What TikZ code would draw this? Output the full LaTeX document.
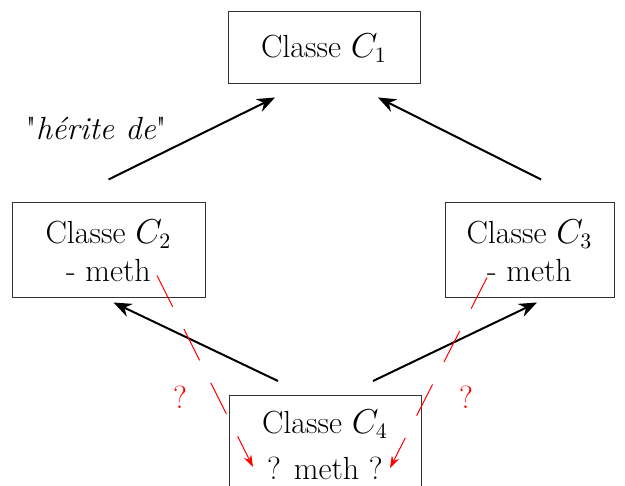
\documentclass[tikz,border=0pt]{standalone}
\usepackage{xcolor}
\usepackage{tikz}
\usepackage{amsmath}
\usetikzlibrary{positioning,shapes,arrows,arrows.meta,calc}

\begin{document}
\begin{tikzpicture}[x=0.5pt, y=0.5pt,
    classe/.style={draw=black!80, line width=0.5pt, minimum width=96pt, inner sep=0pt,
        align=center, font=\fontsize{16}{19}\selectfont},
    herite/.style={line width=1pt, -{Stealth[length=9pt, width=7pt]}},
    doute/.style={red, line width=0.5pt, dash pattern=on 17.5pt off 12.5pt,
        -{Stealth[length=6pt, width=4pt]}},
    etiq/.style={font=\fontsize{16}{19}\selectfont}]
    \useasboundingbox (0,0) rectangle (625,486);
    \clip (0,0) rectangle (625,486);

    % les classes
    \node[classe, minimum height=36pt] (c1) at (324,438) {Classe $C_1$};
    \node[classe, minimum width=96.5pt, minimum height=47.5pt] (c2) at (108.5,235.5) {Classe $C_2$\\- meth};
    \node[classe, minimum width=84.5pt, minimum height=47.5pt] (c3) at (529.5,235.5) {Classe $C_3$\\- meth};
    \node[classe, minimum height=49pt, anchor=north] (c4) at (325,91) {Classe $C_4$\\[4pt]? meth ?};

    % extremites des fleches
    \coordinate (h1) at ($(c1.south)+(-49,-13)$);
    \coordinate (h2) at ($(c1.south)+(54,-13)$);
    \coordinate (b2) at ($(c2.north)+(0,23)$);
    \coordinate (b3) at ($(c3.north)+(11.5,23)$);
    \coordinate (s2) at ($(c2.south)+(5,-4)$);
    \coordinate (s3) at ($(c3.south)+(7.5,-4)$);
    \coordinate (n4l) at ($(c4.north)+(-47,14)$);
    \coordinate (n4r) at ($(c4.north)+(48,14)$);

    \draw[herite] (b2) -- (h1);
    \draw[herite] (b3) -- (h2);
    \draw[herite] (n4l) -- (s2);
    \draw[herite] (n4r) -- (s3);
    \node[etiq] (lab) at (96,358) {\textquotedbl\textit{hérite de}\textquotedbl};

    % conflit
    \coordinate (r2) at ($(c2.south)+(48.5,23)$);
    \coordinate (r3) at ($(c3.south)+(-42.5,21)$);
    \coordinate (m4l) at ($(c4.north)+(-72,-72)$);
    \coordinate (m4r) at ($(c4.north)+(65,-73)$);
    \draw[doute] (r2) -- (m4l);
    \draw[doute] (r3) -- (m4r);
    \node[etiq, red] (q2) at (180,89) {?};
    \node[etiq, red] (q3) at (466,89) {?};
\end{tikzpicture}
\end{document}
